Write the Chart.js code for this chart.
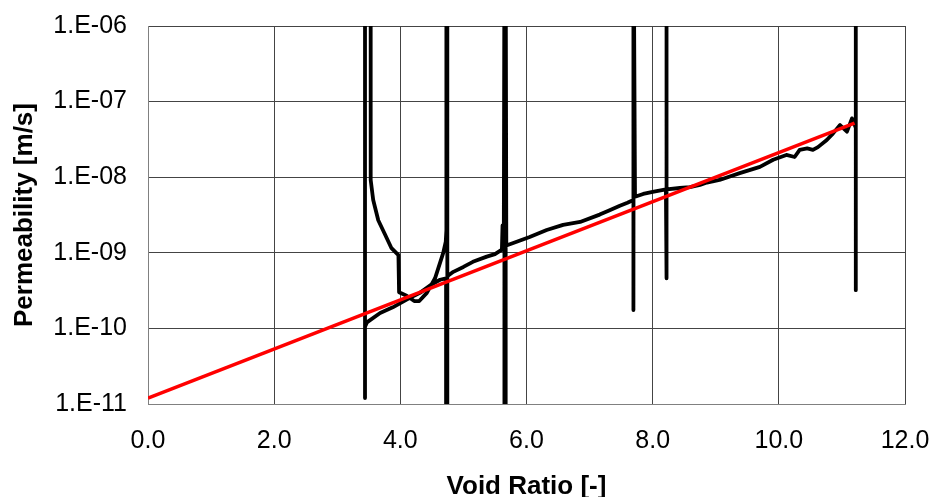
<!DOCTYPE html>
<html>
<head>
<meta charset="utf-8">
<script src="https://cdn.jsdelivr.net/npm/chart.js@4/dist/chart.umd.min.js"></script>
<style>
  html, body { margin: 0; padding: 0; background: #fff; }
  #wrap { width: 933px; height: 497px; position: relative; }
</style>
</head>
<body>
<div id="wrap"><canvas id="perm-chart"></canvas></div>
<script>
// ---- Data ----
// measured curve, in recording order; 1e-5 / 1e-12 are the spikes that leave the plot
const voidRatio = [
    11.22, 11.22, 11.22, 11.16, 11.08, 10.97, 10.86, 10.76, 10.62, 10.54, 10.45, 10.33,
    10.25, 10.12, 9.91, 9.70, 9.38, 9.06, 8.86, 8.75, 8.59, 8.43, 8.22,
    8.22, 8.22, 8.21, 8.0, 7.85, 7.72,
    7.70, 7.70, 7.69, 7.6, 7.48, 7.3, 7.16, 6.85, 6.58, 6.32, 6.05, 5.79, 5.68,
    5.67, 5.67, 5.65, 5.65, 5.64,
    5.63, 5.62, 5.61, 5.5, 5.37, 5.15, 5.0, 4.84, 4.76,
    4.745, 4.745, 4.745, 4.725, 4.725,
    4.63, 4.47, 4.31, 4.1, 3.88, 3.68, 3.47, 3.44,
    3.44, 3.44, 3.53, 3.53,
    3.57, 3.65, 3.75, 3.86, 3.97, 3.98, 4.1, 4.22, 4.3, 4.42, 4.55, 4.68, 4.72, 4.73, 4.73
];
const permeability = [
    1e-5, 3.2e-10, 4.5e-8, 6.0e-8, 4.0e-8, 4.9e-8, 3.8e-8, 3.1e-8, 2.5e-8, 2.3e-8, 2.4e-8, 2.3e-8,
    1.85e-8, 1.97e-8, 1.7e-8, 1.37e-8, 1.13e-8, 9.2e-9, 8.5e-9, 7.9e-9, 7.4e-9, 7.2e-9, 6.9e-9,
    1e-5, 4.6e-10, 6.9e-9, 6.4e-9, 6.0e-9, 5.5e-9,
    1e-5, 1.75e-10, 5.0e-9, 4.6e-9, 4.2e-9, 3.6e-9, 3.2e-9, 2.56e-9, 2.34e-9, 2.0e-9, 1.62e-9, 1.35e-9, 1.25e-9,
    1e-5, 1e-12, 1e-12, 1e-5, 1.2e-9,
    1.2e-9, 2.3e-9, 1.1e-9, 9.6e-10, 8.9e-10, 7.6e-10, 6.5e-10, 5.6e-10, 5.0e-10,
    4.8e-10, 1e-5, 1e-12, 1e-12, 4.6e-10,
    4.4e-10, 3.7e-10, 2.95e-10, 2.4e-10, 1.9e-10, 1.6e-10, 1.2e-10, 1.05e-10,
    1.2e-11, 1e-5, 1e-5, 9.2e-9,
    5e-9, 2.7e-9, 1.8e-9, 1.15e-9, 9.3e-10, 3.0e-10, 2.7e-10, 2.3e-10, 2.3e-10, 2.95e-10, 4.6e-10, 1.0e-9, 1.4e-9, 2e-9, 1e-5
];
// fitted trend line
const fitVoidRatio = [0.0, 11.2];
const fitPermeability = [1.2e-11, 5.2e-8];

const xTickValues = [0, 2, 4, 6, 8, 10, 12];
const yTickValues = [1e-11, 1e-10, 1e-9, 1e-8, 1e-7, 1e-6];
const yTickLabels = ['1.E-11', '1.E-10', '1.E-09', '1.E-08', '1.E-07', '1.E-06'];

const FONT = "'Liberation Sans', Arial, Helvetica, sans-serif";

document.addEventListener("DOMContentLoaded", () => {
    const ctx = document.getElementById('perm-chart');

    const measured = voidRatio.map((e, i) => ({ x: e, y: permeability[i] }));
    const trend = fitVoidRatio.map((e, i) => ({ x: e, y: fitPermeability[i] }));

    // tick padding would otherwise push the plot area in; the layout padding handles it
    const noOverflow = scale => {
        scale.paddingTop = 0;
        scale.paddingBottom = 0;
        scale.paddingLeft = 0;
        scale.paddingRight = 0;
    };

    new Chart(ctx, {
        type: 'scatter',
        data: {
            datasets: [
                {
                    // red fit on top
                    data: trend,
                    showLine: true,
                    borderColor: '#ff0000',
                    borderWidth: 3.5,
                    pointRadius: 0,
                    tension: 0
                },
                {
                    data: measured,
                    showLine: true,
                    borderColor: '#000000',
                    borderWidth: 3.8,
                    borderCapStyle: 'round',
                    borderJoinStyle: 'round',
                    pointRadius: 0,
                    tension: 0,
                    clip: 0
                }
            ]
        },
        options: {
            responsive: true,
            maintainAspectRatio: false,
            animation: false,
            layout: {
                padding: { top: 26, right: 28, bottom: 0, left: 0 }
            },
            plugins: {
                legend: { display: false },
                tooltip: { enabled: false }
            },
            scales: {
                x: {
                    type: 'linear',
                    min: 0,
                    max: 12,
                    afterBuildTicks: scale => {
                        scale.ticks = xTickValues.map(v => ({ value: v }));
                    },
                    afterFit: scale => { scale.height = 93; noOverflow(scale); },
                    ticks: {
                        padding: 22,
                        color: '#000',
                        font: { family: FONT, size: 25 },
                        callback: v => Number(v).toFixed(1)
                    },
                    grid: { color: '#444', lineWidth: 1, drawTicks: false },
                    border: { color: '#808080', width: 1 },
                    title: {
                        display: true,
                        text: 'Void Ratio [-]',
                        color: '#000',
                        font: { family: FONT, size: 26, weight: 'bold', lineHeight: 0.8 },
                        padding: { top: 0, bottom: 0 }
                    }
                },
                y: {
                    type: 'logarithmic',
                    min: 1e-11,
                    max: 1e-6,
                    afterBuildTicks: scale => {
                        scale.ticks = yTickValues.map(v => ({ value: v }));
                    },
                    afterFit: scale => { scale.width = 148; noOverflow(scale); },
                    ticks: {
                        padding: 21,
                        color: '#000',
                        font: { family: FONT, size: 25 },
                        callback: v => {
                            const i = yTickValues.findIndex(t => Math.abs(Math.log10(t) - Math.log10(v)) < 1e-6);
                            return i >= 0 ? yTickLabels[i] : '';
                        }
                    },
                    grid: { color: '#444', lineWidth: 1, drawTicks: false },
                    border: { color: '#808080', width: 1 },
                    title: {
                        display: true,
                        text: 'Permeability [m/s]',
                        color: '#000',
                        font: { family: FONT, size: 26, weight: 'bold' },
                        padding: { top: 9, bottom: 0 }
                    }
                }
            }
        }
    });
});
</script>
</body>
</html>
